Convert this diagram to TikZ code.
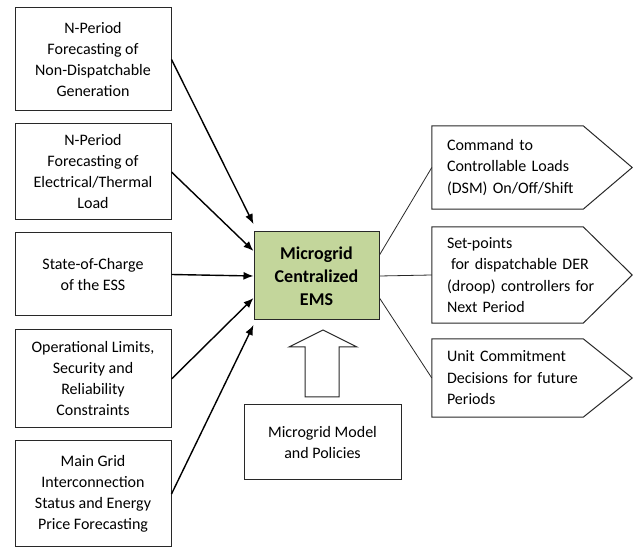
\documentclass[tikz,border=0pt]{standalone}
\usepackage{fontspec}
\setmainfont{Carlito}
\usetikzlibrary{arrows.meta,calc}

\definecolor{emsgreen}{RGB}{195,214,155}
\definecolor{boxline}{RGB}{40,40,40}

\begin{document}
\begin{tikzpicture}[x=1pt, y=-1pt,
    inbox/.style={draw=boxline, line width=1pt, fill=white, align=center, minimum width=156pt,
        inner sep=0pt, font=\fontsize{16}{21}\selectfont},
    emsbox/.style={draw=boxline, line width=1pt, fill=emsgreen, align=center, minimum width=125pt,
        minimum height=88pt, inner sep=0pt, font=\fontsize{18}{23}\selectfont\bfseries},
    outbox/.style={align=left, text width=121pt, inner xsep=15pt, inner ysep=0pt,
        font=\fontsize{16}{21.5}\selectfont},
    pentagon/.style={draw=boxline, line width=1pt},
    inarrow/.style={-{Latex[length=10pt,width=8pt]}, line width=1.4pt, black},
    outline/.style={line width=0.8pt, boxline},
    blockarrow/.style={draw=boxline, line width=1pt, fill=white, line join=miter}
]
\useasboundingbox (0,0) rectangle (633,548);

% Input boxes
\node[inbox, minimum height=103pt] (ndg) at (93,59.5) {N-Period\\Forecasting of\\Non-Dispatchable\\Generation};
\node[inbox, minimum height=96pt] (load) at (93,172) {N-Period\\Forecasting of\\Electrical/Thermal\\Load};
\node[inbox, minimum height=83pt] (soc) at (93,274.5) {State-of-Charge\\of the ESS};
\node[inbox, minimum height=98pt] (limits) at (93,379) {Operational Limits,\\Security and\\Reliability\\Constraints};
\node[inbox, minimum height=106pt] (grid) at (93,494) {Main Grid\\Interconnection\\Status and Energy\\Price Forecasting};

% Central EMS
\node[emsbox] (ems) at (316.5,276) {Microgrid\\Centralized\\EMS};

% Model and policies
\node[inbox, minimum width=157pt, minimum height=75pt] (pol) at (322.5,442.5) {Microgrid Model\\and Policies};

% Output pentagons
\node[outbox, minimum height=83pt] (cmd) at (507.5,167.5)
    {\mbox{Command to}\\\mbox{Controllable Loads}\\\mbox{(DSM) On/Off/Shift}};
\node[outbox, minimum height=96pt] (setp) at (507.5,275)
    {\mbox{Set-points}\\\mbox{\hspace*{4pt}for dispatchable DER}\\\mbox{(droop) controllers for}\\\mbox{Next Period}};
\node[outbox, minimum height=78pt] (unit) at (507.5,378)
    {\mbox{Unit Commitment}\\\mbox{Decisions for future}\\\mbox{Periods}};
\foreach \n in {cmd,setp,unit}
    \draw[pentagon] (\n.north west) -- (\n.north east) -- ([xshift=49pt]\n.east)
        -- (\n.south east) -- (\n.south west) -- cycle;

% Inputs to EMS
\draw[inarrow] (ndg.east) -- ($(ems.west)+(0,-52)$);
\draw[inarrow] (load.east) -- ($(ems.west)+(0,-25)$);
\draw[inarrow] (soc.east) -- (ems.west);
\draw[inarrow] (limits.east) -- ($(ems.west)+(0,22)$);
\draw[inarrow] (grid.east) -- ($(ems.west)+(0,49)$);

% EMS to outputs
\draw[outline] ($(ems.east)+(0,-21)$) -- (cmd.west);
\draw[outline] (ems.east) -- (setp.west);
\draw[outline] ($(ems.east)+(0,22)$) -- (unit.west);

% Block arrow from policies
\draw[blockarrow] (323,330) -- (357,347) -- (339,347) -- (339,397) -- (305,397)
    -- (305,347) -- (289,347) -- cycle;

\end{tikzpicture}
\end{document}
